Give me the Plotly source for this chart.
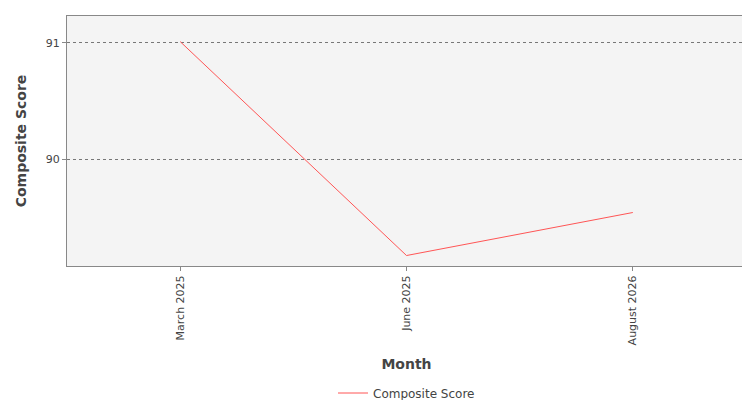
import plotly.graph_objects as go

months = ["March 2025", "June 2025", "August 2026"]
scores = [91.01, 89.17, 89.54]

fig = go.Figure()
fig.add_trace(go.Scatter(
    x=months, y=scores, mode="lines", name="Composite Score",
    line=dict(color="#ff5555", width=1),
))

fig.update_layout(
    width=750, height=400,
    margin=dict(l=59, r=12, t=8, b=142, autoexpand=False),
    paper_bgcolor="white", plot_bgcolor="#f4f4f4",
    font=dict(family="DejaVu Sans", size=11, color="#444"),
    showlegend=True,
    legend=dict(orientation="h", x=0.5, xanchor="center", y=-0.45, yanchor="top",
                font=dict(size=12)),
    xaxis=dict(
        title=dict(text="<b>Month</b>", font=dict(size=14, color="#444"), standoff=14),
        tickangle=-90, range=[-0.5, 2.5], showgrid=False, automargin=False,
        showline=True, linecolor="#888", mirror=True, ticks="outside", ticklen=4,
        tickcolor="#888",
    ),
    yaxis=dict(
        title=dict(text="<b>Composite Score</b>", font=dict(size=14, color="#444")),
        range=[89.08, 91.23], tickvals=[90, 91], ticktext=["90", "91"], automargin=False,
        showgrid=True, gridcolor="#777", griddash="dot", gridwidth=1,
        showline=True, linecolor="#888", mirror=True, ticks="outside", ticklen=4,
        tickcolor="#888", zeroline=False,
    ),
)

fig.write_html("out.html")
